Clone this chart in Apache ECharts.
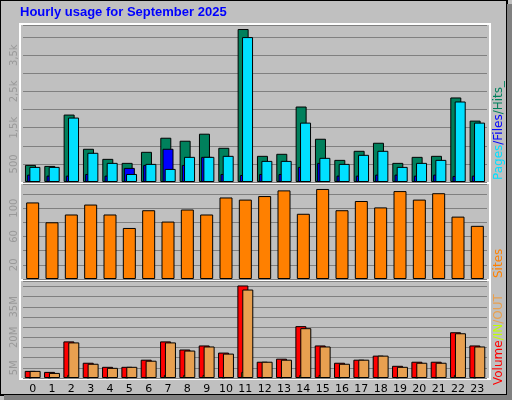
<!DOCTYPE html>
<html><head><meta charset="utf-8">
<script src="https://cdn.jsdelivr.net/npm/echarts@6/dist/echarts.min.js"></script>
<style>html,body{margin:0;padding:0;background:#c0c0c0}#c{width:512px;height:400px}</style>
</head><body><div id="c"></div>
<script>
const hours = ['0','1','2','3','4','5','6','7','8','9','10','11','12','13','14','15','16','17','18','19','20','21','22','23'];
const hits  = [472,444,1861,917,639,528,833,1222,1139,1333,944,4222,722,778,2083,1194,611,861,1083,528,694,722,2333,1694];
const pages = [204,176,176,222,176,389,472,917,472,694,222,194,222,222,417,528,176,176,204,204,176,204,167,176];
const files = [417,417,1778,806,528,222,500,361,694,694,722,4000,583,583,1639,667,500,750,861,417,528,611,2222,1639];
const sites = [108,80,91,105,91,72,97,81,98,91,115,112,117,125,92,127,97,110,101,124,112,121,88,75];
const volume = [3.5,3,18,7.5,5.5,5.5,9,18,14,16,12.5,45.5,8,9.5,25.5,16,7.5,9,11,6,8,8,22.5,16];
const volIn  = [0.3,0.3,1.5,0.3,0.3,0.3,0.3,1.5,1.5,1.5,0.3,3,0.3,0.3,1.5,1.5,0.3,0.3,0.3,0.3,0.3,0.3,1.5,0.3];
const volOut = [3.5,2.5,17.5,7,5,5.5,8.5,17.5,13.5,15.5,12,43.5,8,9,24.5,15.5,7,9,11,5.5,7.5,7.5,22,15.5];

const chart = echarts.init(document.getElementById('c'));
const L=23, W=464;
const panels=[[25,157],[184,95],[281,97]];
const grids = panels.map(p=>({left:L,width:W,top:p[0],height:p[1]}));
const ax = i=>({type:'category',data:hours,gridIndex:i,axisLine:{show:false},axisTick:{show:false},
  axisLabel:{show:i===2,color:'#000',fontSize:11,fontFamily:'DejaVu Sans',margin:6}});
const yax=(i,max,intv,fmt)=>({type:'value',gridIndex:i,min:0,max:max,interval:intv,
  axisLine:{show:false},axisTick:{show:false},
  splitLine:{lineStyle:{color:'#808080',width:1}},
  axisLabel:{rotate:90,color:'#999',fontSize:10,fontFamily:'DejaVu Sans',margin:4,formatter:fmt,showMaxLabel:false}});
const bar=(name,data,xi,color,bw,gap,extra)=>Object.assign({type:'bar',name,data,xAxisIndex:xi,yAxisIndex:xi,barWidth:bw,barGap:gap,
  itemStyle:{color,borderColor:'#000',borderWidth:1},animation:false},extra||{});
const frames=[];
panels.forEach(p=>{
  frames.push({type:'rect',shape:{x:20,y:p[0]-1,width:470,height:p[1]+2},style:{fill:null,stroke:'#fff',lineWidth:2},z:-1});
});
chart.setOption({
  backgroundColor:'#c0c0c0',
  animation:false,
  grid:grids,
  xAxis:[ax(0),ax(1),ax(2)],
  yAxis:[
    yax(0,4333,500,v=>(v/500)%2===1?(v===500?'500':(v/1000).toFixed(1).replace('.',',')+'k'):''),
    yax(1,134,20,v=>v%40===20?String(v):''),
    yax(2,47.7,5,v=>v%15===5?v+'M':'')
  ],
  series:[
    bar('Hits',hits,0,'#00805c',11,'-80%'),
    bar('Pages',pages,0,'#0000ff',11,'-80%'),
    bar('Files',files,0,'#00e0ff',11,'-80%'),
    bar('Sites',sites,1,'#ff8000',13,'0%'),
    bar('Volume',volume,2,'#ff0000',11,'-65%'),
    bar('IN',volIn,2,'#c0ff00',3,'-65%',{barGap:'-65%'}),
    bar('OUT',volOut,2,'#e8a050',11,'-65%')
  ],
  graphic:[
    {type:'rect',shape:{x:0,y:0,width:507,height:395},style:{fill:null,stroke:'#000',lineWidth:2},z:10},
    {type:'rect',shape:{x:507,y:4,width:5,height:396},style:{fill:'#808080'},z:10},
    {type:'rect',shape:{x:4,y:395,width:508,height:5},style:{fill:'#808080'},z:10},
    {type:'text',left:20,top:6,style:{text:'Hourly usage for September 2025',fill:'#0000ff',font:'bold 13px "Liberation Sans"'}},
    {type:'text',x:493,y:180,rotation:Math.PI/2,style:{rich:{a:{fill:'#00e0ff',font:'12px "DejaVu Sans"'},b:{fill:'#0000ff',font:'12px "DejaVu Sans"'},c:{fill:'#00805c',font:'12px "DejaVu Sans"'}},text:'{a|Pages}{b|/Files}{c|/Hits_}'}},
    {type:'text',x:493,y:278,rotation:Math.PI/2,style:{text:'Sites',fill:'#ff8000',font:'12px "DejaVu Sans"'}},
    {type:'text',x:493,y:385,rotation:Math.PI/2,style:{rich:{a:{fill:'#ff0000',font:'12px "DejaVu Sans"'},b:{fill:'#c0ff00',font:'12px "DejaVu Sans"'},c:{fill:'#e8a050',font:'12px "DejaVu Sans"'}},text:'{a|Volume}{b|/IN}{c|/OUT}'}}
  ].concat(frames)
});
</script></body></html>
